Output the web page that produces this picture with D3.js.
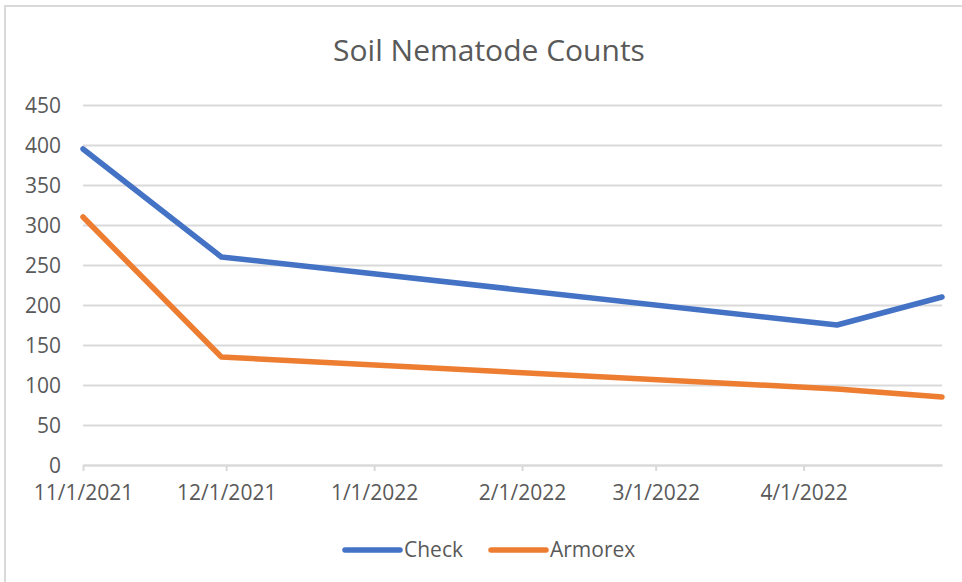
<!DOCTYPE html>
<html>
<head>
<meta charset="utf-8">
<script src="https://d3js.org/d3.v7.min.js"></script>
<style>
  body { margin: 0; background: #fff; }
  text { font-family: "Open Sans", sans-serif; fill: #595959; }
</style>
</head>
<body>
<svg id="chart" width="962" height="582"></svg>
<script>
// data
var dates = ["2021-11-01", "2021-11-30", "2022-04-08", "2022-04-30"]
var check = [395, 260, 175, 210]
var armorex = [310, 135, 95, 85]
var seriesNames = ["Check", "Armorex"]
var seriesColors = ["#4472C4", "#ED7D31"]
var yTicks = [0, 50, 100, 150, 200, 250, 300, 350, 400, 450]
var xTickLabels = ["11/1/2021", "12/1/2021", "1/1/2022", "2/1/2022", "3/1/2022", "4/1/2022"]

var parse = d3.timeParse("%Y-%m-%d")
var parseTick = d3.timeParse("%m/%d/%Y")
var fmtTick = function(d) { return (d.getMonth() + 1) + "/" + d.getDate() + "/" + d.getFullYear() }

var margin = { top: 105, left: 83 }
var width = 859
var height = 360

var svg = d3.select("#chart")

// chart frame
svg.append("rect")
  .attr("x", 5).attr("y", 6)
  .attr("width", 962).attr("height", 590)
  .attr("fill", "none")
  .attr("stroke", "#d9d9d9")
  .attr("stroke-width", 2)

svg.append("text")
  .attr("x", 489).attr("y", 61)
  .attr("text-anchor", "middle")
  .style("font-size", "30px")
  .text("Soil Nematode Counts")

var g = svg.append("g")
  .attr("transform", "translate(" + margin.left + "," + margin.top + ")")

var x = d3.scaleTime()
  .domain([parse("2021-11-01"), parse("2022-04-30")])
  .range([0, width])

var y = d3.scaleLinear()
  .domain([0, 450])
  .range([height, 0])

// gridlines + y labels
var yAxis = d3.axisLeft(y)
  .tickValues(yTicks)
  .tickSize(-width)
  .tickPadding(22)
g.append("g")
  .call(yAxis)
  .call(function(a) {
    a.select(".domain").remove()
    a.selectAll("line").attr("stroke", "#d9d9d9").attr("stroke-width", 2)
    a.selectAll("text").style("font-size", "21px").attr("fill", "#595959").attr("dy", "0.35em")
  })

// x axis
var xAxis = d3.axisBottom(x)
  .tickValues(xTickLabels.map(parseTick))
  .tickFormat(fmtTick)
  .tickSize(6)
  .tickSizeOuter(0)
  .tickPadding(14)
g.append("g")
  .attr("transform", "translate(0," + height + ")")
  .call(xAxis)
  .call(function(a) {
    a.select(".domain").attr("stroke", "#d9d9d9").attr("stroke-width", 2)
    a.selectAll("line").attr("stroke", "#d9d9d9").attr("stroke-width", 2)
    a.selectAll("text").style("font-size", "21px").attr("fill", "#595959")
  })

var line = d3.line()
  .x(function(d) { return x(d[0]) })
  .y(function(d) { return y(d[1]) })

var allSeries = [check, armorex]
allSeries.forEach(function(vals, i) {
  var pts = dates.map(function(d, j) { return [parse(d), vals[j]] })
  g.append("path")
    .datum(pts)
    .attr("fill", "none")
    .attr("stroke", seriesColors[i])
    .attr("stroke-width", 5.5)
    .attr("stroke-linecap", "round")
    .attr("stroke-linejoin", "round")
    .attr("d", line)
})

// legend
var legendX = [345, 491]
seriesNames.forEach(function(name, i) {
  var lg = svg.append("g").attr("transform", "translate(" + legendX[i] + ",550)")
  lg.append("line")
    .attr("x1", 0).attr("x2", 55)
    .attr("stroke", seriesColors[i])
    .attr("stroke-width", 5.5)
    .attr("stroke-linecap", "round")
  lg.append("text")
    .attr("x", 59).attr("dy", "0.35em")
    .style("font-size", "21px")
    .text(name)
})
</script>
</body>
</html>
